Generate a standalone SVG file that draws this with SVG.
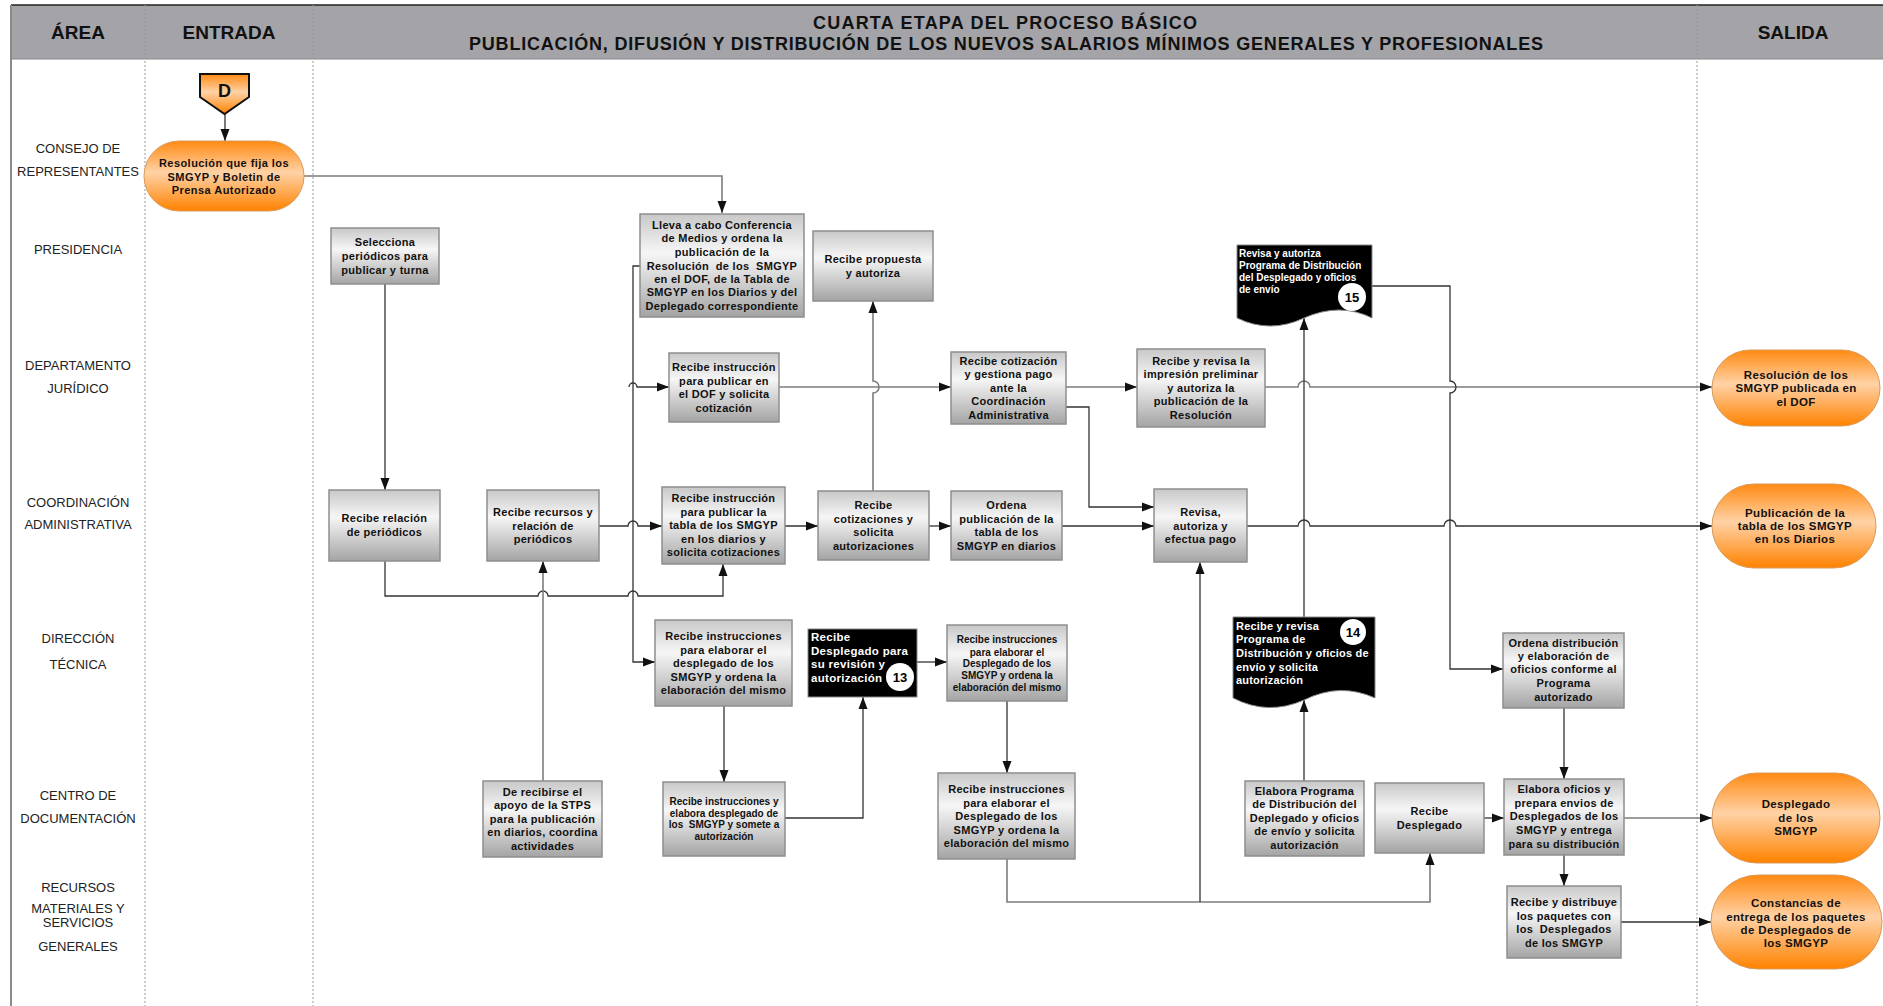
<svg xmlns="http://www.w3.org/2000/svg" width="1883" height="1006" viewBox="0 0 1883 1006">
<defs>
<linearGradient id="gBox" x1="0" y1="0" x2="0" y2="1">
<stop offset="0" stop-color="#c8c8c8"/><stop offset="0.38" stop-color="#f6f6f6"/><stop offset="1" stop-color="#a4a4a4"/>
</linearGradient>
<linearGradient id="gOr" x1="0" y1="0" x2="0" y2="1">
<stop offset="0" stop-color="#ff8a12"/><stop offset="0.45" stop-color="#ffd2a6"/><stop offset="1" stop-color="#ff8200"/>
</linearGradient>
<marker id="ah" markerUnits="userSpaceOnUse" markerWidth="12" markerHeight="10" viewBox="0 0 12 10" refX="12" refY="5" orient="auto">
<path d="M0,0.5 L12,5 L0,9.5 z" fill="#111"/>
</marker>
<style>
.hd{font-family:"Liberation Sans",Arial,sans-serif;font-weight:bold;font-size:19px;fill:#111;text-anchor:middle}
.ttl{font-family:"Liberation Sans",Arial,sans-serif;font-weight:bold;font-size:18px;fill:#111;text-anchor:middle}
.lane{font-family:"Liberation Sans",Arial,sans-serif;font-size:13px;fill:#222;text-anchor:middle}
.box{fill:url(#gBox);stroke:#8e8e8e;stroke-width:1.5}
.pill{fill:url(#gOr);stroke:#d99a5c;stroke-width:1}
.blk{fill:#000;stroke:#888;stroke-width:1}
.t{font-family:"Liberation Sans",Arial,sans-serif;font-weight:bold;font-size:11px;letter-spacing:0.3px;fill:#111;text-anchor:middle}
.ts{font-size:10px;letter-spacing:0px}
.tp{font-family:"Liberation Sans",Arial,sans-serif;font-weight:bold;font-size:11.5px;letter-spacing:0.35px;fill:#111;text-anchor:middle}
.tw{font-family:"Liberation Sans",Arial,sans-serif;font-weight:bold;font-size:11.5px;letter-spacing:0.3px;fill:#fff;text-anchor:start}
.tw10{font-size:10px;letter-spacing:0px}
.tw11{font-size:11px;letter-spacing:0.2px}
.num{font-family:"Liberation Sans",Arial,sans-serif;font-weight:bold;font-size:13px;fill:#000;text-anchor:middle}
.ln{fill:none;stroke:#333;stroke-width:1.3}
.lg{fill:none;stroke:#7c7c7c;stroke-width:1.6}
.dot{stroke:#9a9a9a;stroke-width:1;stroke-dasharray:2,2}
</style>
</defs>
<rect x="0" y="0" width="1883" height="1006" fill="#fff"/>
<g id="frame">
<rect x="11" y="5" width="1872" height="54" fill="#a3a3a8"/>
<line x1="11" y1="5" x2="1883" y2="5" stroke="#222" stroke-width="1.5"/>
<line x1="11" y1="59" x2="1883" y2="59" stroke="#8a8a8a" stroke-width="1"/>
<line x1="11" y1="5" x2="11" y2="1006" stroke="#8a8a8a" stroke-width="2"/>
<line class="dot" x1="145" y1="5" x2="145" y2="1006"/>
<line class="dot" x1="313" y1="5" x2="313" y2="1006"/>
<line class="dot" x1="1697" y1="5" x2="1697" y2="1006"/>
<text class="hd" x="78" y="39">ÁREA</text>
<text class="hd" x="229" y="39">ENTRADA</text>
<text class="hd" x="1793" y="39">SALIDA</text>
<text class="ttl" x="1005" y="28.5" textLength="384" lengthAdjust="spacing">CUARTA ETAPA DEL PROCESO BÁSICO</text>
<text class="ttl" x="1006" y="49.5" textLength="1074" lengthAdjust="spacing">PUBLICACIÓN, DIFUSIÓN Y DISTRIBUCIÓN DE LOS NUEVOS SALARIOS MÍNIMOS GENERALES Y PROFESIONALES</text>
</g>
<g id="lanes">
<text class="lane" x="78" y="153">CONSEJO DE</text>
<text class="lane" x="78" y="176">REPRESENTANTES</text>
<text class="lane" x="78" y="254">PRESIDENCIA</text>
<text class="lane" x="78" y="370">DEPARTAMENTO</text>
<text class="lane" x="78" y="393">JURÍDICO</text>
<text class="lane" x="78" y="507">COORDINACIÓN</text>
<text class="lane" x="78" y="529">ADMINISTRATIVA</text>
<text class="lane" x="78" y="643">DIRECCIÓN</text>
<text class="lane" x="78" y="669">TÉCNICA</text>
<text class="lane" x="78" y="800">CENTRO DE</text>
<text class="lane" x="78" y="823">DOCUMENTACIÓN</text>
<text class="lane" x="78" y="892">RECURSOS</text>
<text class="lane" x="78" y="913">MATERIALES Y</text>
<text class="lane" x="78" y="927">SERVICIOS</text>
<text class="lane" x="78" y="951">GENERALES</text>
</g>
<g id="connectors">
<path class="ln" d="M225,114 V141" marker-end="url(#ah)"/>
<path class="lg" d="M304,176 H722 V213" marker-end="url(#ah)"/>
<path class="ln" d="M385,284 V490" marker-end="url(#ah)"/>
<path class="ln" d="M640,266 H633 V662 H655" marker-end="url(#ah)"/>
<path class="ln" d="M629,387 A4,4 0 0 1 637,387 H669" marker-end="url(#ah)"/>
<path class="ln" d="M599,526 H628 A5,5 0 0 1 638,526 H662" marker-end="url(#ah)"/>
<path class="ln" d="M385,561 V596 H538 A5,5 0 0 1 548,596 H628 A5,5 0 0 1 638,596 H723 V564" marker-end="url(#ah)"/>
<path class="lg" d="M543,781 V561" marker-end="url(#ah)"/>
<path class="ln" d="M785,526 H818" marker-end="url(#ah)"/>
<path class="lg" d="M873,491 V393 A6,6 0 0 0 873,381 V301" marker-end="url(#ah)"/>
<path class="lg" d="M779,387 H951" marker-end="url(#ah)"/>
<path class="ln" d="M929,526 H951" marker-end="url(#ah)"/>
<path class="ln" d="M724,706 V782" marker-end="url(#ah)"/>
<path class="ln" d="M785,818 H863 V697" marker-end="url(#ah)"/>
<path class="ln" d="M917,662 H947" marker-end="url(#ah)"/>
<path class="ln" d="M1007,701 V773" marker-end="url(#ah)"/>
<path class="lg" d="M1007,859 V902 H1430 V853" marker-end="url(#ah)"/>
<path class="ln" d="M1200,902 V562" marker-end="url(#ah)"/>
<path class="lg" d="M1066,387 H1137" marker-end="url(#ah)"/>
<path class="ln" d="M1066,407 H1089 V507 H1154" marker-end="url(#ah)"/>
<path class="ln" d="M1062,526 H1154" marker-end="url(#ah)"/>
<path class="lg" d="M1265,387 H1298 A6,6 0 0 1 1310,387 H1712" marker-end="url(#ah)"/>
<path class="ln" d="M1247,526 H1298 A6,6 0 0 1 1310,526 H1444 A6,6 0 0 1 1456,526 H1712" marker-end="url(#ah)"/>
<path class="ln" d="M1304,781 V700" marker-end="url(#ah)"/>
<path class="ln" d="M1304,617 V318" marker-end="url(#ah)"/>
<path class="ln" d="M1372,286 H1450 V381 A6,6 0 0 1 1450,393 V669 H1503" marker-end="url(#ah)"/>
<path class="ln" d="M1484,818 H1504" marker-end="url(#ah)"/>
<path class="ln" d="M1564,708 V779" marker-end="url(#ah)"/>
<path class="lg" d="M1624,818 H1712" marker-end="url(#ah)"/>
<path class="ln" d="M1564,855 V886" marker-end="url(#ah)"/>
<path class="ln" d="M1621,922 H1711" marker-end="url(#ah)"/>
</g>
<g id="nD">
<path d="M200,74 H249 V97 L224.5,114 L200,97 Z" fill="url(#gOr)" stroke="#111" stroke-width="2"/>
<text class="hd" x="224.5" y="97" style="font-size:18px">D</text>
</g>
<g id="nResolucion">
<rect class="pill" x="144" y="141" width="160" height="70" rx="35"/>
<text class="t" style="letter-spacing:0.45px"><tspan x="224" y="167">Resolución que fija los</tspan><tspan x="224" y="181">SMGYP y Boletin de</tspan><tspan x="224" y="194">Prensa Autorizado</tspan></text>
</g>
<g id="nSelecciona">
<rect class="box" x="331" y="228" width="108" height="56"/>
<text class="t"><tspan x="385" y="246">Selecciona</tspan><tspan x="385" y="260">periódicos para</tspan><tspan x="385" y="274">publicar y turna</tspan></text>
</g>
<g id="nLleva">
<rect class="box" x="640" y="214" width="164" height="103"/>
<text class="t" xml:space="preserve"><tspan x="722" y="229">Lleva a cabo Conferencia</tspan><tspan x="722" y="242">de Medios y ordena la</tspan><tspan x="722" y="256">publicación de la</tspan><tspan x="722" y="270">Resolución  de los  SMGYP</tspan><tspan x="722" y="283">en el DOF, de la Tabla de</tspan><tspan x="722" y="296">SMGYP en los Diarios y del</tspan><tspan x="722" y="310">Deplegado correspondiente</tspan></text>
</g>
<g id="nPropuesta">
<rect class="box" x="813" y="231" width="120" height="70"/>
<text class="t"><tspan x="873" y="263">Recibe propuesta</tspan><tspan x="873" y="277">y autoriza</tspan></text>
</g>
<g id="nRelacion">
<rect class="box" x="329" y="490" width="111" height="71"/>
<text class="t"><tspan x="384.5" y="522">Recibe relación</tspan><tspan x="384.5" y="536">de periódicos</tspan></text>
</g>
<g id="nRecursos">
<rect class="box" x="487" y="490" width="112" height="71"/>
<text class="t"><tspan x="543" y="516">Recibe recursos y</tspan><tspan x="543" y="530">relación de</tspan><tspan x="543" y="543">periódicos</tspan></text>
</g>
<g id="nInstrDOF">
<rect class="box" x="669" y="353" width="110" height="69"/>
<text class="t"><tspan x="724" y="371">Recibe instrucción</tspan><tspan x="724" y="385">para publicar en</tspan><tspan x="724" y="398">el DOF y solicita</tspan><tspan x="724" y="412">cotización</tspan></text>
</g>
<g id="nInstrTabla">
<rect class="box" x="662" y="487" width="123" height="77"/>
<text class="t"><tspan x="723.5" y="502">Recibe instrucción</tspan><tspan x="723.5" y="516">para publicar la</tspan><tspan x="723.5" y="529">tabla de los SMGYP</tspan><tspan x="723.5" y="543">en los diarios y</tspan><tspan x="723.5" y="556">solicita cotizaciones</tspan></text>
</g>
<g id="nCotizaciones">
<rect class="box" x="818" y="491" width="111" height="69"/>
<text class="t"><tspan x="873.5" y="509">Recibe</tspan><tspan x="873.5" y="523">cotizaciones y</tspan><tspan x="873.5" y="536">solicita</tspan><tspan x="873.5" y="550">autorizaciones</tspan></text>
</g>
<g id="nInstrDesplegado">
<rect class="box" x="655" y="620" width="137" height="86"/>
<text class="t"><tspan x="723.5" y="640">Recibe instrucciones</tspan><tspan x="723.5" y="654">para elaborar el</tspan><tspan x="723.5" y="667">desplegado de los</tspan><tspan x="723.5" y="681">SMGYP y ordena la</tspan><tspan x="723.5" y="694">elaboración del mismo</tspan></text>
</g>
<g id="nApoyo">
<rect class="box" x="483" y="781" width="119" height="76"/>
<text class="t"><tspan x="542.5" y="796">De recibirse el</tspan><tspan x="542.5" y="809">apoyo de la STPS</tspan><tspan x="542.5" y="823">para la publicación</tspan><tspan x="542.5" y="836">en diarios, coordina</tspan><tspan x="542.5" y="850">actividades</tspan></text>
</g>
<g id="nElabora">
<rect class="box" x="663" y="782" width="122" height="74"/>
<text class="t ts" xml:space="preserve"><tspan x="724" y="804.5">Recibe instrucciones y</tspan><tspan x="724" y="816.5">elabora desplegado de</tspan><tspan x="724" y="828">los  SMGYP y somete a</tspan><tspan x="724" y="840">autorización</tspan></text>
</g>
<g id="n13">
<rect class="blk" x="808" y="629" width="109" height="68"/>
<text class="tw"><tspan x="811" y="641">Recibe</tspan><tspan x="811" y="655">Desplegado para</tspan><tspan x="811" y="668">su revisión y</tspan><tspan x="811" y="682">autorización</tspan></text>
<circle cx="900" cy="677" r="14" fill="#fff"/>
<text class="num" x="900" y="681.5">13</text>
</g>
<g id="nInstrSmall">
<rect class="box" x="947" y="625" width="120" height="76"/>
<text class="t ts"><tspan x="1007" y="642.5">Recibe instrucciones</tspan><tspan x="1007" y="655.5">para elaborar el</tspan><tspan x="1007" y="667">Desplegado de los</tspan><tspan x="1007" y="679">SMGYP y ordena la</tspan><tspan x="1007" y="691">elaboración del mismo</tspan></text>
</g>
<g id="nInstrBig">
<rect class="box" x="938" y="773" width="137" height="86"/>
<text class="t"><tspan x="1006.5" y="793">Recibe instrucciones</tspan><tspan x="1006.5" y="807">para elaborar el</tspan><tspan x="1006.5" y="820">Desplegado de los</tspan><tspan x="1006.5" y="834">SMGYP y ordena la</tspan><tspan x="1006.5" y="847">elaboración del mismo</tspan></text>
</g>
<g id="nCotizacion">
<rect class="box" x="951" y="352" width="115" height="72"/>
<text class="t"><tspan x="1008.5" y="365">Recibe cotización</tspan><tspan x="1008.5" y="378">y gestiona pago</tspan><tspan x="1008.5" y="392">ante la</tspan><tspan x="1008.5" y="405">Coordinación</tspan><tspan x="1008.5" y="419">Administrativa</tspan></text>
</g>
<g id="nImpresion">
<rect class="box" x="1137" y="349" width="128" height="78"/>
<text class="t"><tspan x="1201" y="365">Recibe y revisa la</tspan><tspan x="1201" y="378">impresión preliminar</tspan><tspan x="1201" y="392">y autoriza la</tspan><tspan x="1201" y="405">publicación de la</tspan><tspan x="1201" y="419">Resolución</tspan></text>
</g>
<g id="nOrdenaPub">
<rect class="box" x="951" y="491" width="111" height="69"/>
<text class="t"><tspan x="1006.5" y="509">Ordena</tspan><tspan x="1006.5" y="523">publicación de la</tspan><tspan x="1006.5" y="536">tabla de los</tspan><tspan x="1006.5" y="550">SMGYP en diarios</tspan></text>
</g>
<g id="nRevisa">
<rect class="box" x="1154" y="489" width="93" height="73"/>
<text class="t"><tspan x="1200.5" y="516">Revisa,</tspan><tspan x="1200.5" y="530">autoriza y</tspan><tspan x="1200.5" y="543">efectua pago</tspan></text>
</g>
<g id="n15">
<path class="blk" d="M1237,245 H1372 V318 Q1340,302 1304,318 Q1270,334 1237,318 Z"/>
<text class="tw tw10"><tspan x="1239" y="256.5">Revisa y autoriza</tspan><tspan x="1239" y="268.5">Programa de Distribución</tspan><tspan x="1239" y="280.5">del Desplegado y oficios</tspan><tspan x="1239" y="292.5">de envío</tspan></text>
<circle cx="1352" cy="297" r="14" fill="#fff"/>
<text class="num" x="1352" y="301.5">15</text>
</g>
<g id="n14">
<path class="blk" d="M1233,617 H1375 V698 Q1340,682 1304,700 Q1268,716 1233,698 Z"/>
<text class="tw tw11"><tspan x="1236" y="630">Recibe y revisa</tspan><tspan x="1236" y="643">Programa de</tspan><tspan x="1236" y="657">Distribución y oficios de</tspan><tspan x="1236" y="671">envío y solicita</tspan><tspan x="1236" y="684">autorización</tspan></text>
<circle cx="1353" cy="632" r="13" fill="#fff"/>
<text class="num" x="1353" y="636.5">14</text>
</g>
<g id="nPrograma">
<rect class="box" x="1245" y="781" width="119" height="75"/>
<text class="t"><tspan x="1304.5" y="795">Elabora Programa</tspan><tspan x="1304.5" y="808">de Distribución del</tspan><tspan x="1304.5" y="822">Deplegado y oficios</tspan><tspan x="1304.5" y="835">de envío y solicita</tspan><tspan x="1304.5" y="849">autorización</tspan></text>
</g>
<g id="nRecibeDesplegado">
<rect class="box" x="1375" y="783" width="109" height="70"/>
<text class="t"><tspan x="1429.5" y="815">Recibe</tspan><tspan x="1429.5" y="829">Desplegado</tspan></text>
</g>
<g id="nOrdenaDist">
<rect class="box" x="1503" y="633" width="121" height="75"/>
<text class="t"><tspan x="1563.5" y="647">Ordena distribución</tspan><tspan x="1563.5" y="660">y elaboración de</tspan><tspan x="1563.5" y="673">oficios conforme al</tspan><tspan x="1563.5" y="687">Programa</tspan><tspan x="1563.5" y="701">autorizado</tspan></text>
</g>
<g id="nOficios">
<rect class="box" x="1504" y="779" width="120" height="76"/>
<text class="t"><tspan x="1564" y="793">Elabora oficios y</tspan><tspan x="1564" y="807">prepara envios de</tspan><tspan x="1564" y="820">Desplegados de los</tspan><tspan x="1564" y="834">SMGYP y entrega</tspan><tspan x="1564" y="848">para su distribución</tspan></text>
</g>
<g id="nDistribuye">
<rect class="box" x="1507" y="886" width="114" height="72"/>
<text class="t" xml:space="preserve"><tspan x="1564" y="906">Recibe y distribuye</tspan><tspan x="1564" y="920">los paquetes con</tspan><tspan x="1564" y="933">los  Desplegados</tspan><tspan x="1564" y="947">de los SMGYP</tspan></text>
</g>
<g id="oDOF">
<rect class="pill" x="1712" y="350" width="168" height="76" rx="38"/>
<text class="tp"><tspan x="1796" y="379">Resolución de los</tspan><tspan x="1796" y="392">SMGYP publicada en</tspan><tspan x="1796" y="406">el DOF</tspan></text>
</g>
<g id="oTabla">
<rect class="pill" x="1712" y="484" width="164" height="84" rx="42"/>
<text class="tp"><tspan x="1795" y="517">Publicación de la</tspan><tspan x="1795" y="530">tabla de los SMGYP</tspan><tspan x="1795" y="543">en los Diarios</tspan></text>
</g>
<g id="oDesplegado">
<rect class="pill" x="1712" y="773" width="168" height="90" rx="45"/>
<text class="tp"><tspan x="1796" y="808">Desplegado</tspan><tspan x="1796" y="822">de los</tspan><tspan x="1796" y="835">SMGYP</tspan></text>
</g>
<g id="oConstancias">
<rect class="pill" x="1711" y="875" width="171" height="94" rx="47"/>
<text class="tp"><tspan x="1796" y="907">Constancias de</tspan><tspan x="1796" y="921">entrega de los paquetes</tspan><tspan x="1796" y="934">de Desplegados de</tspan><tspan x="1796" y="947">los SMGYP</tspan></text>
</g>
</svg>
